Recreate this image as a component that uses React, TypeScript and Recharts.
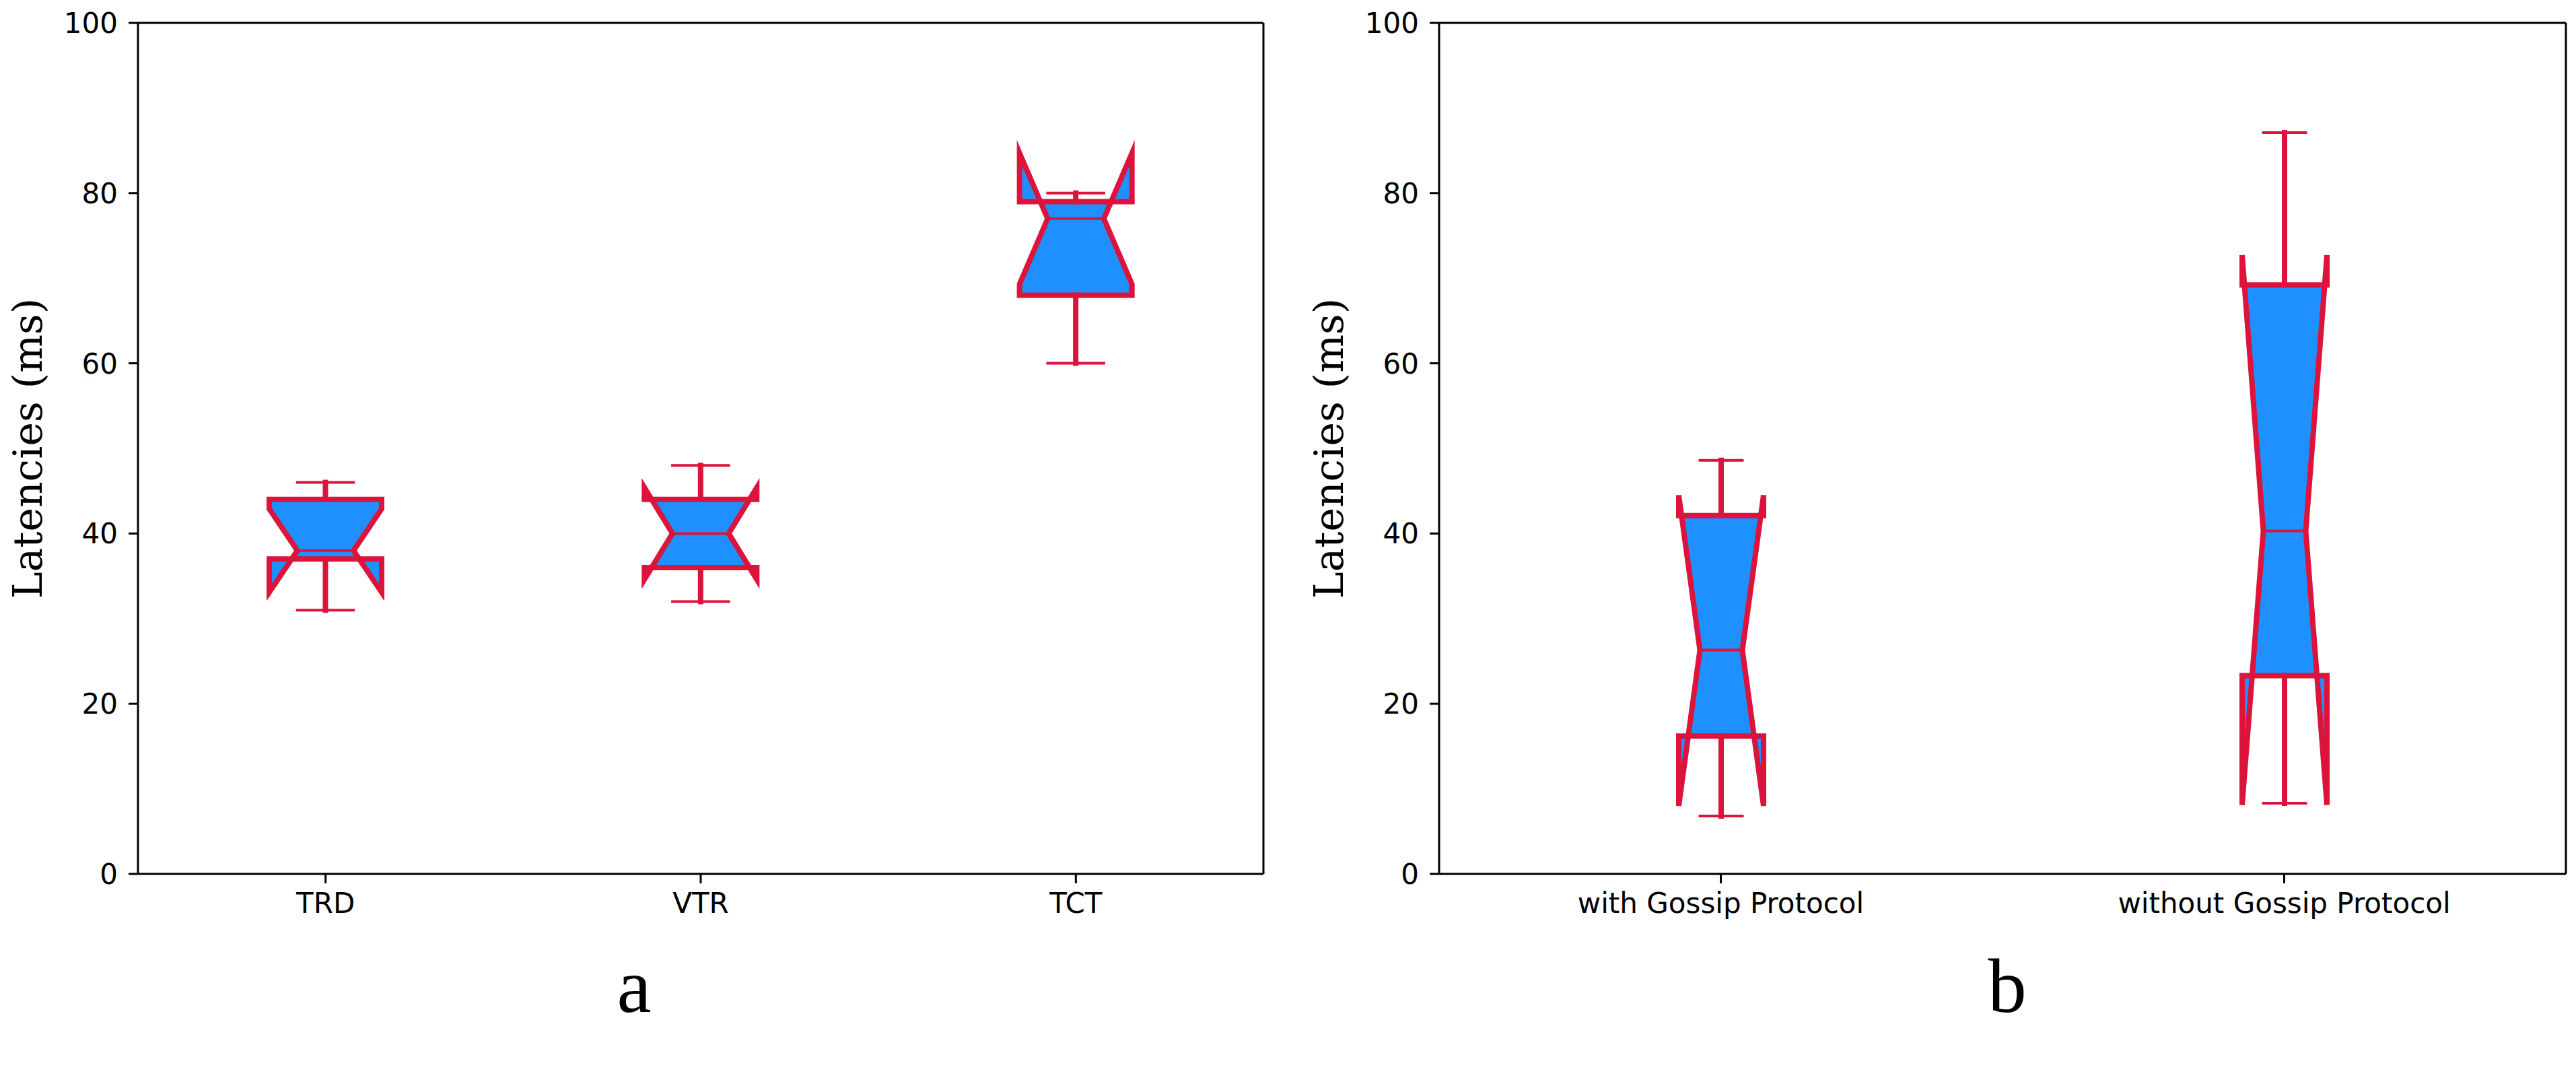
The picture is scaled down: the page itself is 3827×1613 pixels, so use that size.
import React from 'react';
import { ComposedChart, Bar, XAxis, YAxis, CartesianGrid } from 'recharts';

// panel a: per-task latencies
const tasksA = ['TRD', 'VTR', 'TCT'];
const lowA = [31, 32, 60];
const q1A = [37, 36, 68];
const medA = [38, 40, 77];
const q3A = [44, 44, 79];
const highA = [46, 48, 80];
const notchLoA = [33.1, 34.6, 69.3];
const notchHiA = [42.9, 45.4, 84.7];

// panel b: gossip protocol on / off
const modesB = ['with Gossip Protocol', 'without Gossip Protocol'];
const lowB = [6.8, 8.3];
const q1B = [16.2, 23.3];
const medB = [26.3, 40.3];
const q3B = [42.1, 69.2];
const highB = [48.6, 87.1];
const notchLoB = [8.0, 8.1];
const notchHiB = [44.5, 72.7];

const yTicks = [0, 20, 40, 60, 80, 100];

const FILL = '#1E90FF';
const EDGE = '#DC143C';
const tickFont = { fontFamily: 'DejaVu Sans', fontSize: 42, fill: '#000' };

function buildRows(names: string[], low: number[], q1: number[], med: number[], q3: number[], high: number[], nlo: number[], nhi: number[]) {
  return names.map((name, i) => ({
    name,
    range: [low[i], high[i]],
    low: low[i],
    q1: q1[i],
    med: med[i],
    q3: q3[i],
    high: high[i],
    nlo: nlo[i],
    nhi: nhi[i],
  }));
}

const rowsA = buildRows(tasksA, lowA, q1A, medA, q3A, highA, notchLoA, notchHiA);
const rowsB = buildRows(modesB, lowB, q1B, medB, q3B, highB, notchLoB, notchHiB);

// notched box drawn inside the bar's [low, high] band, so every y comes from the axis scale
function NotchBox(props: any) {
  const { x, y, width, height, payload } = props;
  const top = Math.min(y, y + height);
  const bottom = Math.max(y, y + height);
  const { low, high, q1, med, q3, nlo, nhi } = payload;
  const py = (v: number) => bottom - ((v - low) / (high - low)) * (bottom - top);
  const L = x;
  const R = x + width;
  const cx = x + width / 2;
  const inset = width / 4;
  const d = [
    `M${L},${py(q1)}`,
    `L${L},${py(nlo)}`,
    `L${L + inset},${py(med)}`,
    `L${L},${py(nhi)}`,
    `L${L},${py(q3)}`,
    `L${R},${py(q3)}`,
    `L${R},${py(nhi)}`,
    `L${R - inset},${py(med)}`,
    `L${R},${py(nlo)}`,
    `L${R},${py(q1)}`,
    'Z',
  ].join(' ');
  return (
    <g>
      <path d={d} fill={FILL} stroke={EDGE} strokeWidth={8} strokeLinejoin="miter" strokeMiterlimit={8} />
      <line x1={cx} x2={cx} y1={py(q3)} y2={py(high)} stroke={EDGE} strokeWidth={8} strokeLinecap="square" />
      <line x1={cx} x2={cx} y1={py(q1)} y2={py(low)} stroke={EDGE} strokeWidth={8} strokeLinecap="square" />
      <line x1={cx - inset} x2={cx + inset} y1={py(high)} y2={py(high)} stroke={EDGE} strokeWidth={4} strokeLinecap="square" />
      <line x1={cx - inset} x2={cx + inset} y1={py(low)} y2={py(low)} stroke={EDGE} strokeWidth={4} strokeLinecap="square" />
      <line x1={L + inset} x2={R - inset} y1={py(med)} y2={py(med)} stroke={EDGE} strokeWidth={4} />
    </g>
  );
}

function Panel({ rows, width, boxWidth, marginLeft, marginRight }: any) {
  return (
    <ComposedChart
      width={width}
      height={1613}
      data={rows}
      margin={{ top: 34, right: marginRight, bottom: 235, left: marginLeft }}
    >
      {/* top and right spines */}
      <CartesianGrid
        stroke="#000"
        strokeWidth={3}
        strokeDasharray=""
        horizontalCoordinatesGenerator={({ offset }: any) => [offset.top]}
        verticalCoordinatesGenerator={({ offset }: any) => [offset.left + offset.width]}
      />
      <XAxis
        dataKey="name"
        type="category"
        interval={0}
        height={80}
        tick={tickFont}
        tickSize={14}
        tickMargin={14}
        tickLine={{ stroke: '#000', strokeWidth: 3 }}
        axisLine={{ stroke: '#000', strokeWidth: 3 }}
      />
      <YAxis
        type="number"
        domain={[0, 100]}
        ticks={yTicks}
        width={100}
        tick={tickFont}
        tickSize={14}
        tickMargin={16}
        tickLine={{ stroke: '#000', strokeWidth: 3 }}
        axisLine={{ stroke: '#000', strokeWidth: 3 }}
      />
      <Bar dataKey="range" barSize={boxWidth} shape={(p: any) => <NotchBox {...p} />} isAnimationActive={false} />
    </ComposedChart>
  );
}

export default function App() {
  return (
    <div style={{ position: 'absolute', left: 0, top: 0, width: 3827, height: 1613, background: '#fff' }}>
      <div style={{ position: 'absolute', left: 0, top: 0 }}>
        <Panel rows={rowsA} width={1900} boxWidth={167} marginLeft={105} marginRight={23} />
      </div>
      <div style={{ position: 'absolute', left: 1900, top: 0 }}>
        <Panel rows={rowsB} width={1927} boxWidth={126} marginLeft={138} marginRight={15} />
      </div>
      <svg width={3827} height={1613} style={{ position: 'absolute', left: 0, top: 0, pointerEvents: 'none' }}>
        <text x={62} y={666} transform="rotate(-90 62 666)" textAnchor="middle" fontFamily="DejaVu Serif" fontSize={60}>
          Latencies (ms)
        </text>
        <text x={1995} y={666} transform="rotate(-90 1995 666)" textAnchor="middle" fontFamily="DejaVu Serif" fontSize={60}>
          Latencies (ms)
        </text>
        <text x={942} y={1503} textAnchor="middle" fontFamily="Liberation Serif" fontSize={115}>
          a
        </text>
        <text x={2982} y={1503} textAnchor="middle" fontFamily="Liberation Serif" fontSize={115}>
          b
        </text>
      </svg>
    </div>
  );
}
